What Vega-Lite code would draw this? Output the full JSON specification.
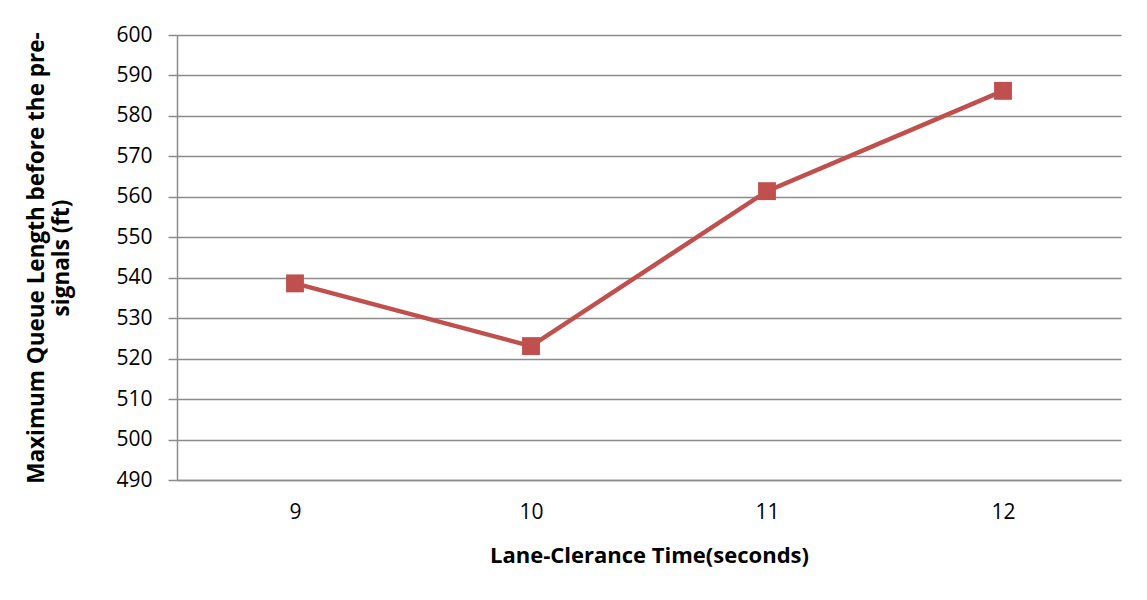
{
  "$schema": "https://vega.github.io/schema/vega-lite/v6.json",
  "width": 944,
  "height": 445,
  "autosize": {"type": "none"},
  "padding": {"left": 177, "top": 35, "right": 26, "bottom": 120},
  "background": "white",
  "config": {
    "font": "Open Sans",
    "view": {"stroke": null},
    "axis": {
      "labelFont": "Open Sans",
      "titleFont": "Open Sans",
      "labelColor": "#000000",
      "titleColor": "#000000",
      "domainColor": "#8c8c8c",
      "domainWidth": 1.5,
      "gridColor": "#8c8c8c",
      "gridWidth": 1.5,
      "tickColor": "#8c8c8c",
      "tickWidth": 1.5
    }
  },
  "data": {
    "values": [
      {"time": "9", "queue": 538.6},
      {"time": "10", "queue": 523.1},
      {"time": "11", "queue": 561.4},
      {"time": "12", "queue": 586.2}
    ]
  },
  "encoding": {
    "x": {
      "field": "time",
      "type": "ordinal",
      "sort": null,
      "scale": {"paddingInner": 0, "paddingOuter": 0.5},
      "axis": {
        "title": "Lane-Clerance Time(seconds)",
        "labelAngle": 0,
        "labelFontSize": 21,
        "labelPadding": 21,
        "ticks": false,
        "grid": false,
        "titleFontSize": 22,
        "titleFontWeight": "bold",
        "titlePadding": 23
      }
    },
    "y": {
      "field": "queue",
      "type": "quantitative",
      "scale": {"domain": [490, 600], "nice": false, "zero": false},
      "axis": {
        "title": ["Maximum Queue Length before the pre-", "signals (ft)"],
        "values": [490, 500, 510, 520, 530, 540, 550, 560, 570, 580, 590, 600],
        "labelFontSize": 21,
        "labelPadding": 16,
        "tickSize": 9,
        "titleFontSize": 22.5,
        "titleFontWeight": "bold",
        "titleLineHeight": 25,
        "titlePadding": 42,
        "domain": true
      }
    }
  },
  "layer": [
    {
      "mark": {"type": "line", "color": "#C0504D", "strokeWidth": 4.5}
    },
    {
      "mark": {"type": "point", "shape": "square", "filled": true, "color": "#C0504D", "opacity": 1, "size": 320}
    }
  ]
}
